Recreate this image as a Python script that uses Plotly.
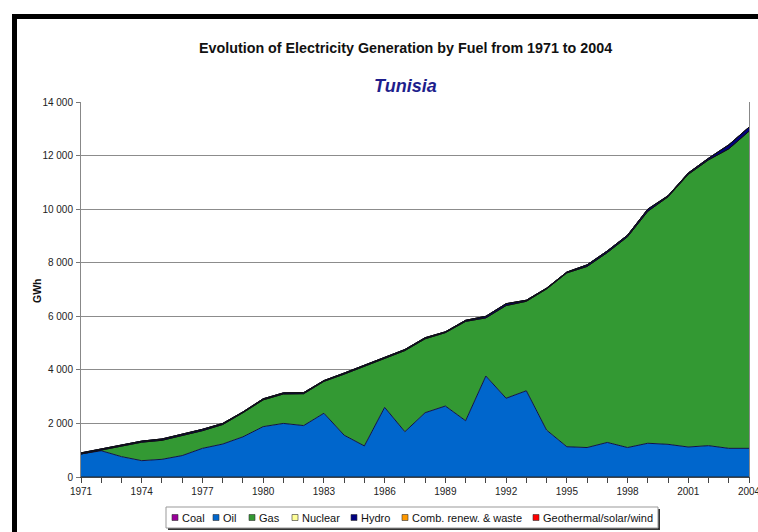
import plotly.graph_objects as go

# ---- data (GWh) ----
years = list(range(1971, 2005))

coal = [0, 0, 0, 0, 0, 0, 0, 0, 0, 0, 0, 0, 0, 0, 0, 0, 0,
        0, 0, 0, 0, 0, 0, 0, 0, 0, 0, 0, 0, 0, 0, 0, 0, 0]
oil = [860, 980, 760, 610, 660, 800, 1070, 1230, 1500, 1880, 2000, 1920,
       2380, 1560, 1160, 2600, 1690, 2400, 2650, 2100, 3770, 2940, 3220,
       1750, 1130, 1100, 1290, 1100, 1260, 1220, 1120, 1170, 1070, 1070]
gas = [0, 20, 380, 690, 710, 750, 660, 730, 900, 1000, 1100, 1190,
       1190, 2280, 2980, 1840, 3030, 2760, 2740, 3710, 2170, 3460, 3340,
       5270, 6490, 6760, 7090, 7870, 8660, 9240, 10180, 10670, 11180, 11840]
nuclear = [0, 0, 0, 0, 0, 0, 0, 0, 0, 0, 0, 0, 0, 0, 0, 0, 0,
           0, 0, 0, 0, 0, 0, 0, 0, 0, 0, 0, 0, 0, 0, 0, 0, 0]
hydro = [40, 50, 60, 40, 50, 40, 50, 40, 30, 40, 40, 40, 30, 40, 40, 40, 40,
         40, 30, 40, 60, 70, 40, 30, 30, 60, 60, 60, 80, 40, 50, 60, 150, 150]
comb_renew = [0, 0, 0, 0, 0, 0, 0, 0, 0, 0, 0, 0, 0, 0, 0, 0, 0,
              0, 0, 0, 0, 0, 0, 0, 0, 0, 0, 0, 0, 0, 0, 0, 0, 0]
geo_solar_wind = [0, 0, 0, 0, 0, 0, 0, 0, 0, 0, 0, 0, 0, 0, 0, 0, 0,
                  0, 0, 0, 0, 0, 0, 0, 0, 0, 0, 0, 0, 0, 0, 0, 0, 0]

fuel_names = ["Coal", "Oil", "Gas", "Nuclear", "Hydro",
              "Comb. renew. & waste", "Geothermal/solar/wind"]
fuel_values = [coal, oil, gas, nuclear, hydro, comb_renew, geo_solar_wind]
fuel_colors = ["#990099", "#0066CC", "#339933", "#FFFF99", "#000080",
               "#FF9900", "#FF0000"]

y_tick_vals = [0, 2000, 4000, 6000, 8000, 10000, 12000, 14000]
y_tick_text = ["0", "2 000", "4 000", "6 000", "8 000", "10 000", "12 000", "14 000"]
x_tick_vals = list(range(1971, 2005, 3))

title_text = "Evolution of Electricity Generation by Fuel from 1971 to 2004"
subtitle_text = "Tunisia"
y_title = "GWh"

# ---- page geometry (pixels) ----
W, H = 758, 532
PL, PR, PT, PB = 81, 749, 102, 477   # plot area edges


def px(x):
    return (x - PL) / (PR - PL)


def py(y):
    return (PB - y) / (PB - PT)


FONT = "Arial, Liberation Sans, sans-serif"

fig = go.Figure()

edge_colors = ["#222222", "#10104a", "#111111", "#111111", "#000060",
               "#111111", "#111111"]
for name, vals, col, edge in zip(fuel_names, fuel_values, fuel_colors, edge_colors):
    fig.add_trace(go.Scatter(
        x=years, y=vals, name=name, stackgroup="one", mode="lines",
        line=dict(color=edge, width=1), fillcolor=col, showlegend=False,
        hoverinfo="x+y+name",
    ))

shapes = []
annotations = []

# black frame on the top and left of the page
shapes.append(dict(type="rect", xref="paper", yref="paper",
                   x0=px(12), x1=px(W), y0=py(14), y1=py(19),
                   fillcolor="black", line=dict(width=0)))
shapes.append(dict(type="rect", xref="paper", yref="paper",
                   x0=px(12), x1=px(17), y0=py(14), y1=py(H),
                   fillcolor="black", line=dict(width=0)))

# titles
annotations.append(dict(text=title_text, xref="paper", yref="paper",
                        x=px(405), y=py(48), showarrow=False,
                        xanchor="center", yanchor="middle",
                        font=dict(family=FONT, size=14.3, color="#111111", weight="bold")))
annotations.append(dict(text=subtitle_text, xref="paper", yref="paper",
                        x=px(405), y=py(86), showarrow=False,
                        xanchor="center", yanchor="middle",
                        font=dict(family=FONT, size=18, color="#1E1E8C",
                                  weight="bold", style="italic")))
annotations.append(dict(text=y_title, xref="paper", yref="paper",
                        x=px(37), y=py(290), showarrow=False, textangle=-90,
                        xanchor="center", yanchor="middle",
                        font=dict(family=FONT, size=10.5, color="#111111", weight="bold")))

# legend box with drop shadow
LX0, LX1, LY0, LY1 = 166, 658, 507, 528
shapes.append(dict(type="rect", xref="paper", yref="paper",
                   x0=px(LX0 + 2), x1=px(LX1 + 2), y0=py(LY0 + 2), y1=py(LY1 + 2),
                   fillcolor="#333333", line=dict(width=0)))
shapes.append(dict(type="rect", xref="paper", yref="paper",
                   x0=px(LX0), x1=px(LX1), y0=py(LY0), y1=py(LY1),
                   fillcolor="white", line=dict(color="#999999", width=1)))
legend_x = [172, 213, 249, 292, 351, 402, 533]
LYC = (LY0 + LY1) / 2
for name, col, lx in zip(fuel_names, fuel_colors, legend_x):
    shapes.append(dict(type="rect", xref="paper", yref="paper",
                       x0=px(lx), x1=px(lx + 6), y0=py(LYC - 3), y1=py(LYC + 3),
                       fillcolor=col, line=dict(color="#333333", width=0.6)))
    annotations.append(dict(text=name, xref="paper", yref="paper",
                            x=px(lx + 8), y=py(LYC), showarrow=False,
                            xanchor="left", yanchor="middle",
                            font=dict(family=FONT, size=11, color="#111111")))

fig.update_layout(
    width=W, height=H,
    margin=dict(l=PL, r=W - PR, t=PT, b=H - PB, pad=0, autoexpand=False),
    paper_bgcolor="white", plot_bgcolor="white",
    showlegend=False,
    shapes=shapes, annotations=annotations,
    font=dict(family=FONT, size=10, color="#222222"),
    xaxis=dict(
        range=[1971, 2004], tickmode="array", tickvals=x_tick_vals,
        ticks="outside", ticklen=5, tickwidth=1, tickcolor="#444444",
        minor=dict(tickmode="linear", tick0=1971, dtick=1, ticks="outside",
                   ticklen=5, tickwidth=1, tickcolor="#444444", showgrid=False),
        showline=True, linecolor="#444444", linewidth=1, automargin=False,
        showgrid=False, zeroline=False, ticklabeloverflow="allow",
        tickfont=dict(family=FONT, size=10, color="#222222"),
    ),
    yaxis=dict(
        range=[0, 14000], tickmode="array", tickvals=y_tick_vals,
        ticktext=y_tick_text, automargin=False, ticklabelstandoff=1,
        ticks="outside", ticklen=4, tickwidth=1, tickcolor="#777777",
        showline=True, linecolor="#888888", linewidth=1, mirror=True,
        showgrid=True, gridcolor="#8c8c8c", gridwidth=1, zeroline=False,
        tickfont=dict(family=FONT, size=10, color="#222222"),
    ),
)

fig.write_html("out.html", config={"displayModeBar": False})
